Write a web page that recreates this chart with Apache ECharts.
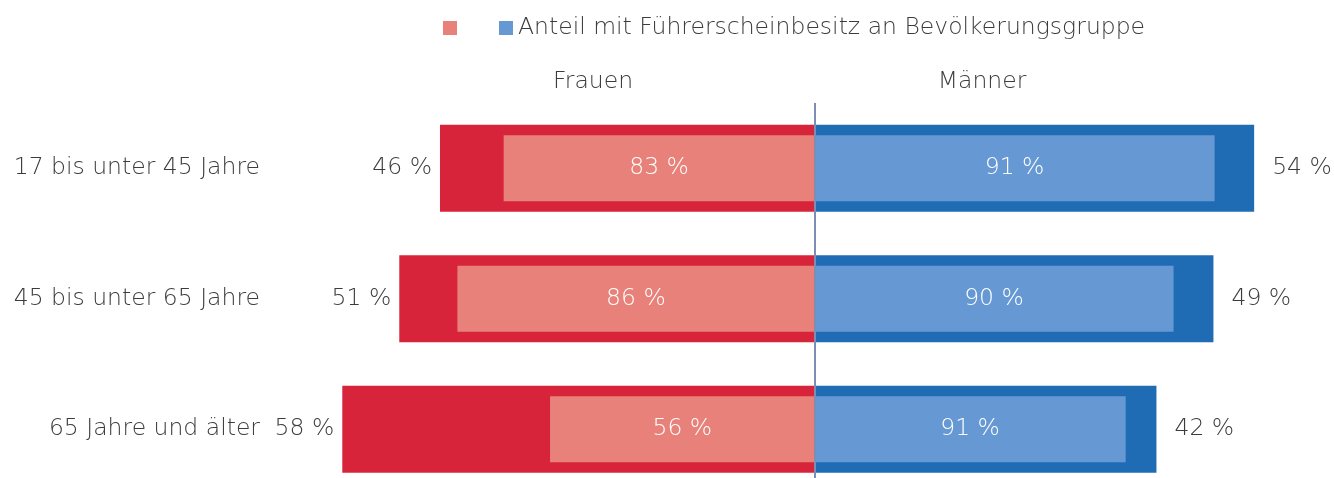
<!DOCTYPE html>
<html><head><meta charset="utf-8">
<script src="https://cdn.jsdelivr.net/npm/echarts@6/dist/echarts.min.js"></script>
<style>html,body{margin:0;padding:0;background:#fff}#c{width:1334px;height:478px}</style>
</head><body><div id="c"></div>
<script>
// Data
const categories = ['17 bis unter 45 Jahre', '45 bis unter 65 Jahre', '65 Jahre und älter'];
const frauenAnteil = [46, 51, 58];     // Anteil an Bevölkerungsgruppe (outer bar)
const maennerAnteil = [54, 49, 42];
const frauenFuehrerschein = [83, 86, 56]; // Anteil mit Führerscheinbesitz (inner bar, % of outer)
const maennerFuehrerschein = [91, 90, 91];
const legendName = 'Anteil mit Führerscheinbesitz an Bevölkerungsgruppe';
const frauenInnerName = 'Frauen Führerscheinbesitz';

const FONT = 'DejaVu Sans';
const TXT = '#3c3c3c';

const frauenInner = frauenAnteil.map((v, i) => -v * frauenFuehrerschein[i] / 100);
const maennerInner = maennerAnteil.map((v, i) => v * maennerFuehrerschein[i] / 100);

const chart = echarts.init(document.getElementById('c'), null, {renderer: 'canvas'});
const baseText = {fontFamily: FONT, fontWeight: 300, fontSize: 23.5, color: TXT};
const pad = {padding: [5, 0, 0, 0]};

chart.setOption({
  animation: false,
  legend: {
    left: 443, top: 16, padding: 0,
    itemWidth: 14, itemHeight: 14, itemGap: 42,
    icon: 'rect',
    data: [frauenInnerName, legendName],
    formatter: n => n === frauenInnerName ? '' : n,
    textStyle: Object.assign({}, baseText),
    selectedMode: false
  },
  title: [
    {text: 'Frauen', left: 588, top: 65, textAlign: 'center', textStyle: Object.assign({}, baseText)},
    {text: 'Männer', left: 977, top: 65, textAlign: 'center', textStyle: Object.assign({}, baseText)}
  ],
  grid: {left: 326, right: 31, top: 103, height: 391.5, containLabel: false, outerBoundsMode: 'none'},
  xAxis: {
    type: 'value', min: -60, max: 60,
    show: false
  },
  yAxis: [
    {
      type: 'category', data: categories, inverse: true,
      axisLine: {show: false}, axisTick: {show: false},
      axisLabel: Object.assign({}, baseText, pad, {margin: 66, align: 'right'})
    },
    {
      type: 'category', data: categories, inverse: true, show: false
    }
  ],
  series: [
    {
      name: 'Frauen', type: 'bar', yAxisIndex: 0, barWidth: 87, barGap: '-100%',
      data: frauenAnteil.map(v => -v),
      itemStyle: {color: '#d7243a'},
      label: Object.assign({show: true, position: 'left', distance: 8,
        formatter: p => frauenAnteil[p.dataIndex] + ' %'}, baseText, pad),
      markLine: {
        silent: true, symbol: 'none', z: 10,
        lineStyle: {color: '#7d8db3', width: 2, type: 'solid'},
        label: {show: false},
        data: [{xAxis: 0}]
      }
    },
    {
      name: 'Männer', type: 'bar', yAxisIndex: 0, barWidth: 87, barGap: '-100%',
      data: maennerAnteil,
      itemStyle: {color: '#1f6cb5'},
      label: Object.assign({show: true, position: 'right', distance: 18,
        formatter: p => maennerAnteil[p.dataIndex] + ' %'}, baseText, pad)
    },
    {
      name: frauenInnerName, type: 'bar', yAxisIndex: 1, barWidth: 66, barGap: '-100%',
      data: frauenInner,
      itemStyle: {color: '#e8817a'},
      label: Object.assign({}, baseText, pad, {show: true, position: 'inside', color: '#fff',
        formatter: p => frauenFuehrerschein[p.dataIndex] + ' %'})
    },
    {
      name: legendName, type: 'bar', yAxisIndex: 1, barWidth: 66, barGap: '-100%',
      data: maennerInner,
      itemStyle: {color: '#6699d3'},
      label: Object.assign({}, baseText, pad, {show: true, position: 'inside', color: '#fff',
        formatter: p => maennerFuehrerschein[p.dataIndex] + ' %'})
    }
  ]
});
</script>
</body></html>
